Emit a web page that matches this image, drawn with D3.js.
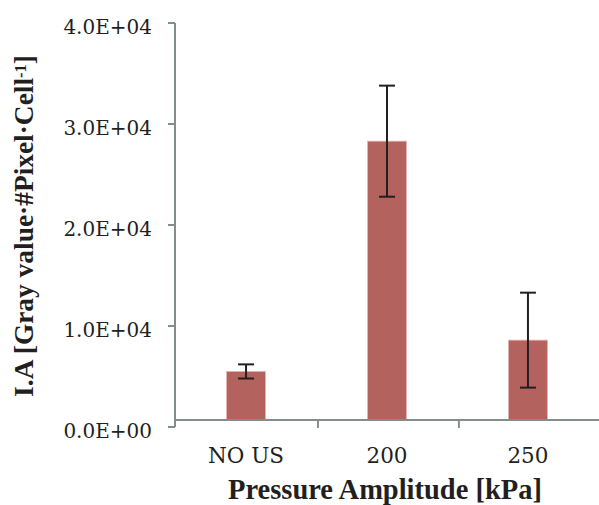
<!DOCTYPE html>
<html>
<head>
<meta charset="utf-8">
<script src="https://cdn.jsdelivr.net/npm/d3@7"></script>
<style>
  body { margin: 0; background: #fff; }
  text { font-family: "DejaVu Serif", serif; fill: #231f20; }
  .title { font-family: "Liberation Serif", "Times New Roman", serif; font-weight: bold; }
</style>
</head>
<body>
<div id="chart"></div>
<script>
// data
var categories = ["NO US", "200", "250"];
var values = [5500, 28300, 8600];
var errors = [700, 5500, 4700];
var yTicks = [0, 10000, 20000, 30000, 40000];
var yTickLabels = ["0.0E+00", "1.0E+04", "2.0E+04", "3.0E+04", "4.0E+04"];
var crossAt = 700; // horizontal axis crosses a bit above zero

var width = 599, height = 505;
var margin = { left: 175, top: 23, right: 0, bottom: 78 };

var svg = d3.select("#chart").append("svg")
  .attr("width", width)
  .attr("height", height);

var yScale = d3.scaleLinear().domain([0, 40000]).range([height - margin.bottom, margin.top]);
var xScale = d3.scaleBand().domain(categories)
  .range([margin.left, width - margin.right])
  .paddingInner(0.724).paddingOuter(0.366);

var axisColor = "#858d89";
var step = xScale.step();
var x0 = margin.left;
var xAxisY = yScale(crossAt);

// shrink/grow font so a text fills the width seen in the picture
function fitWidth(sel, target) {
  var size = parseFloat(sel.attr("font-size"));
  var w = sel.node().getComputedTextLength();
  sel.attr("font-size", size * target / w);
}

// bars
svg.selectAll(".bar")
  .data(values)
  .enter().append("rect")
  .attr("class", "bar")
  .attr("x", function(d, i) { return xScale(categories[i]); })
  .attr("y", function(d) { return yScale(d); })
  .attr("width", xScale.bandwidth())
  .attr("height", function(d) { return xAxisY - yScale(d); })
  .attr("fill", "#b3625d")
  .attr("stroke", "#e7b3b0")
  .attr("stroke-width", 0.8);

// y axis
svg.append("line")
  .attr("x1", x0).attr("x2", x0)
  .attr("y1", yScale(40000)).attr("y2", yScale(0))
  .attr("stroke", axisColor).attr("stroke-width", 2);

svg.selectAll(".ytick")
  .data(yTicks)
  .enter().append("line")
  .attr("x1", x0 - 7).attr("x2", x0)
  .attr("y1", function(d) { return yScale(d); })
  .attr("y2", function(d) { return yScale(d); })
  .attr("stroke", axisColor).attr("stroke-width", 2);

svg.selectAll(".ylabel")
  .data(yTicks)
  .enter().append("text")
  .attr("x", 152)
  .attr("y", function(d) { return yScale(d) + 11; })
  .attr("text-anchor", "end")
  .attr("font-size", 20)
  .text(function(d, i) { return yTickLabels[i]; });

// x axis
svg.append("line")
  .attr("x1", x0).attr("x2", width)
  .attr("y1", xAxisY).attr("y2", xAxisY)
  .attr("stroke", axisColor).attr("stroke-width", 2);

svg.selectAll(".xtick")
  .data([1, 2])
  .enter().append("line")
  .attr("x1", function(d) { return x0 + d * step + 2; })
  .attr("x2", function(d) { return x0 + d * step + 2; })
  .attr("y1", xAxisY).attr("y2", xAxisY + 8)
  .attr("stroke", axisColor).attr("stroke-width", 2);

svg.selectAll(".xlabel")
  .data(categories)
  .enter().append("text")
  .attr("x", function(d) { return xScale(d) + xScale.bandwidth() / 2; })
  .attr("y", 463)
  .attr("text-anchor", "middle")
  .attr("font-size", 21.5)
  .text(function(d) { return d; });

// error bars
var errG = svg.selectAll(".err")
  .data(values)
  .enter().append("g")
  .attr("class", "err")
  .attr("stroke", "#231f20")
  .attr("stroke-width", 2);

errG.append("line")
  .attr("x1", function(d, i) { return xScale(categories[i]) + xScale.bandwidth() / 2; })
  .attr("x2", function(d, i) { return xScale(categories[i]) + xScale.bandwidth() / 2; })
  .attr("y1", function(d, i) { return yScale(d + errors[i]); })
  .attr("y2", function(d, i) { return yScale(d - errors[i]); });

[1, -1].forEach(function(s) {
  errG.append("line")
    .attr("x1", function(d, i) { return xScale(categories[i]) + xScale.bandwidth() / 2 - 8; })
    .attr("x2", function(d, i) { return xScale(categories[i]) + xScale.bandwidth() / 2 + 8; })
    .attr("y1", function(d, i) { return yScale(d + s * errors[i]); })
    .attr("y2", function(d, i) { return yScale(d + s * errors[i]); });
});

// axis titles
var xTitle = svg.append("text")
  .attr("class", "title")
  .attr("x", 385)
  .attr("y", 499)
  .attr("text-anchor", "middle")
  .attr("font-size", 24)
  .text("Pressure Amplitude [kPa]");
fitWidth(xTitle, 314);

var yTitle = svg.append("text")
  .attr("class", "title")
  .attr("transform", "translate(33,226) rotate(-90)")
  .attr("text-anchor", "middle")
  .attr("font-size", 25);
yTitle.append("tspan").text("I.A [Gray value\u00b7#Pixel\u00b7Cell");
yTitle.append("tspan").attr("font-size", "0.6em").attr("dy", "-0.4em").text("-1");
yTitle.append("tspan").attr("dy", "0.24em").text("]");
fitWidth(yTitle, 342);
</script>
</body>
</html>
